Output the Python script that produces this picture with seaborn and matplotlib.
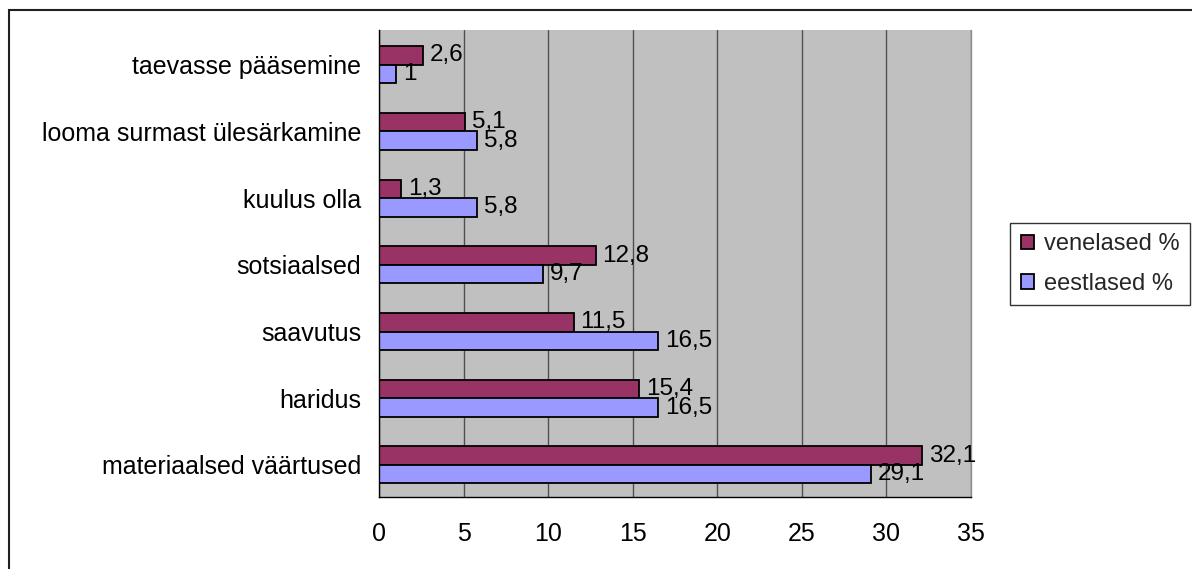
import matplotlib
matplotlib.use("Agg")
import matplotlib.pyplot as plt
import seaborn as sns
import pandas as pd
from matplotlib.patches import Rectangle
from matplotlib.ticker import FixedLocator

categories = ["taevasse pääsemine", "looma surmast ülesärkamine", "kuulus olla",
              "sotsiaalsed", "saavutus", "haridus", "materiaalsed väärtused"]
venelased = [2.6, 5.1, 1.3, 12.8, 11.5, 15.4, 32.1]
eestlased = [1.0, 5.8, 5.8, 9.7, 16.5, 16.5, 29.1]
series_names = ["venelased %", "eestlased %"]
x_ticks = [0, 5, 10, 15, 20, 25, 30, 35]

df = pd.DataFrame({
    "kategooria": categories * 2,
    "väärtus": venelased + eestlased,
    "seeria": [series_names[0]] * len(categories) + [series_names[1]] * len(categories),
})

sns.set_theme(style="white")
plt.rcParams["font.family"] = ["Liberation Sans", "DejaVu Sans"]
FS = 18

fig = plt.figure(figsize=(11.92, 5.69), dpi=100)
ax = fig.add_axes([379/1192, 1-497/569, (971-379)/1192, (497-30)/569])

palette = {"venelased %": "#993366", "eestlased %": "#9999FF"}
sns.barplot(data=df, y="kategooria", x="väärtus", hue="seeria", hue_order=series_names,
            order=categories, palette=palette, orient="h", width=0.555,
            edgecolor="black", linewidth=1.3, saturation=1, ax=ax, legend=True)

ax.set_facecolor("#C0C0C0")
ax.set_xlim(0, 35)
ax.set_ylim(len(categories) - 0.5 - 0.02, -0.5 - 0.02)
ax.set_xticks(x_ticks)
ax.set_xticklabels([str(t) for t in x_ticks], fontsize=FS)
ax.xaxis.grid(True, color="#505050", linewidth=1.0)
ax.set_axisbelow(True)
ax.set_xlabel("")
ax.set_ylabel("")
ax.tick_params(axis="x", direction="out", length=6, width=1, color="black", pad=12)
ax.tick_params(axis="y", which="major", length=0, pad=13, labelsize=FS)
ax.yaxis.set_minor_locator(FixedLocator([i - 0.52 for i in range(len(categories) + 1)]))
ax.tick_params(axis="y", which="minor", direction="out", length=6, width=1, color="black")
for lab in ax.get_yticklabels():
    lab.set_color("black")
for lab in ax.get_xticklabels():
    lab.set_color("black")

for s in ["left", "bottom"]:
    ax.spines[s].set_color("black")
    ax.spines[s].set_linewidth(1)
ax.spines["top"].set_visible(False)
ax.spines["right"].set_color("#909090")
ax.spines["right"].set_linewidth(1)

for cont, vals in zip(ax.containers, [venelased, eestlased]):
    ax.bar_label(cont, labels=[("%g" % v).replace(".", ",") for v in vals],
                 padding=5, fontsize=17.5, color="black")

handles, labels = ax.get_legend_handles_labels()
ax.legend_.remove()
leg = fig.legend(handles, labels, loc="center left", bbox_to_anchor=(1010/1192, 1-264/569),
                 frameon=True, fancybox=False, edgecolor="black", fontsize=17,
                 handlelength=0.55, handleheight=0.55, handletextpad=0.45,
                 borderpad=0.45, labelspacing=0.75, borderaxespad=0)
leg.get_frame().set_linewidth(1)

fig.patches.append(Rectangle((9/1192, -0.02), 1.05, 1-10/569 + 0.02,
                             transform=fig.transFigure, fill=False,
                             edgecolor="#202020", linewidth=1.5))

fig.savefig("out.png", dpi=100, facecolor="white")
